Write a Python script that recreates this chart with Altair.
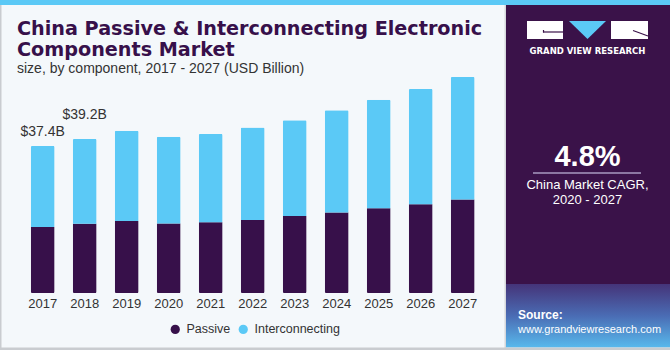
import altair as alt
import pandas as pd

# ---------------- data ----------------
years = ["2017", "2018", "2019", "2020", "2021", "2022", "2023", "2024", "2025", "2026", "2027"]
passive = [16.8, 17.6, 18.3, 17.7, 18.0, 18.6, 19.6, 20.5, 21.6, 22.6, 23.8]
interconnecting = [20.6, 21.6, 23.0, 22.1, 22.5, 23.5, 24.4, 26.0, 27.6, 29.3, 31.2]
components = ["Passive", "Interconnecting"]
comp_colors = ["#37104a", "#5bc9f6"]
labelled_years = ["2017", "2018"]

title_lines = ["China Passive & Interconnecting Electronic", "Components Market"]
subtitle = "size, by component, 2017 - 2027 (USD Billion)"
cagr = "4.8%"
cagr_lines = ["China Market CAGR,", "2020 - 2027"]

rows = []
for i, y in enumerate(years):
    rows.append({"year": y, "component": "Passive", "value": passive[i]})
    rows.append({"year": y, "component": "Interconnecting", "value": interconnecting[i]})
df = pd.DataFrame(rows)

# ---------------- styling ----------------
FONT = "Liberation Sans"
BG = "#f4f8fb"
PANEL = "#3a1249"
TXT = "#333333"

xscale = alt.Scale(domain=years, range=[21.7, 483.7], paddingInner=0.43, paddingOuter=0.215)
yscale = alt.Scale(domain=[0, 56], range=[293, 73])

one = pd.DataFrame({"k": [0]})


def rect(x, x2, y, y2, color, **kw):
    return alt.Chart(one).mark_rect(color=color, **kw).encode(
        x=alt.value(x), x2=alt.value(x2), y=alt.value(y), y2=alt.value(y2))


def rule(x, x2, y, y2, color, w=1):
    return alt.Chart(one).mark_rule(color=color, strokeWidth=w).encode(
        x=alt.value(x), x2=alt.value(x2), y=alt.value(y), y2=alt.value(y2))


def text(t, x, y, size, color=TXT, bold=False, align="left", font=FONT):
    return alt.Chart(one).mark_text(
        text=t, fontSize=size, font=font, color=color, align=align,
        baseline="alphabetic", fontWeight="bold" if bold else "normal",
    ).encode(x=alt.value(x), y=alt.value(y))


# ---------------- chart marks ----------------
bars = alt.Chart(df).transform_calculate(
    ord="datum.component === 'Passive' ? 0 : 1"
).mark_bar(cornerRadius=1.5).encode(
    x=alt.X("year:N", scale=xscale, axis=None),
    y=alt.Y("value:Q", scale=yscale, axis=None, stack="zero"),
    color=alt.Color(
        "component:N",
        scale=alt.Scale(domain=components, range=comp_colors),
        legend=alt.Legend(
            orient="none", legendX=169, legendY=323, direction="horizontal",
            title=None, symbolType="circle", symbolSize=85, symbolStrokeWidth=0,
            labelFontSize=12.5, labelFont=FONT, labelColor=TXT, labelOffset=5,
            columnPadding=6, padding=0,
        ),
    ),
    order=alt.Order("ord:Q", sort="ascending"),
)

year_labels = alt.Chart(df).transform_filter(
    "datum.component === 'Passive'"
).mark_text(baseline="alphabetic", fontSize=13, font=FONT, color=TXT).encode(
    x=alt.X("year:N", scale=xscale, axis=None),
    y=alt.value(308),
    text="year:N",
)


def total_label(year, dy):
    return alt.Chart(df).transform_joinaggregate(
        total="sum(value)", groupby=["year"]
    ).transform_filter(
        f"datum.component === 'Passive' && datum.year === '{year}'"
    ).transform_calculate(
        lbl="'$' + format(datum.total, '.1f') + 'B'"
    ).mark_text(baseline="alphabetic", fontSize=14, font=FONT, color=TXT, dy=dy).encode(
        x=alt.X("year:N", scale=xscale, axis=None),
        y=alt.Y("total:Q", scale=yscale, axis=None),
        text="lbl:N",
    )


labels = [total_label(labelled_years[0], -10), total_label(labelled_years[1], -20)]

# ---------------- decorations ----------------
gradient = alt.Gradient(
    gradient="linear",
    stops=[
        alt.GradientStop(offset=0, color="#453479"),
        alt.GradientStop(offset=0.5, color="#4a6cb4"),
        alt.GradientStop(offset=1, color="#59b9ec"),
    ],
    x1=0, x2=0, y1=0, y2=1,
)

deco = [
    rect(0, 670, 0, 5, "#5bc9f6"),
    rect(0, 1.5, 5, 350, "#c9ccd0"),
    rect(504.5, 506, 5, 348, "#d5d8dc"),
    rect(506, 670, 5, 284, PANEL),
    rect(506, 670, 284, 347.5, gradient),
    rect(0, 670, 347.5, 350, "#c9ccd0"),
    # logo
    rect(527, 563, 21, 39, "#ffffff"),
    rect(611, 648, 21, 39, "#ffffff"),
    rule(543, 563, 32, 32, PANEL, 1.2),
    rule(543.5, 543.5, 30, 32.5, PANEL, 1.2),
    rule(633, 648, 30.5, 36, PANEL, 1.2),
    alt.Chart(one).mark_point(
        shape="M -1 -0.49 L 1 -0.49 L 0 0.49 Z", filled=True, opacity=1,
        size=1369, color="#5bc9f6", strokeWidth=0,
    ).encode(x=alt.value(587.5), y=alt.value(30)),
    text("GRAND VIEW RESEARCH", 587.5, 54, 8.5, "#ffffff", True, "center", "DejaVu Sans"),
    # CAGR
    text(cagr, 587.5, 166, 29, "#ffffff", True, "center"),
    rule(533, 641, 173, 173, "#a99ac0", 1.5),
    text(cagr_lines[0], 587.5, 189, 13, "#ffffff", False, "center"),
    text(cagr_lines[1], 587.5, 204, 13, "#ffffff", False, "center"),
    # source
    text("Source:", 518, 319, 12, "#ffffff", True),
    text("www.grandviewresearch.com", 518, 333, 11, "#ffffff"),
    # titles
    text(title_lines[0], 17, 35, 19.2, "#37104a", True, "left", "DejaVu Sans"),
    text(title_lines[1], 17, 56, 19.2, "#37104a", True, "left", "DejaVu Sans"),
    text(subtitle, 17, 73, 14, TXT),
]

chart = alt.layer(*deco, bars, year_labels, *labels).properties(
    width=670, height=350, background=BG,
    autosize=alt.AutoSizeParams(type="none"), padding=0,
).configure_view(stroke=None)

chart.save("out.html", embed_options={"renderer": "svg", "actions": False})
